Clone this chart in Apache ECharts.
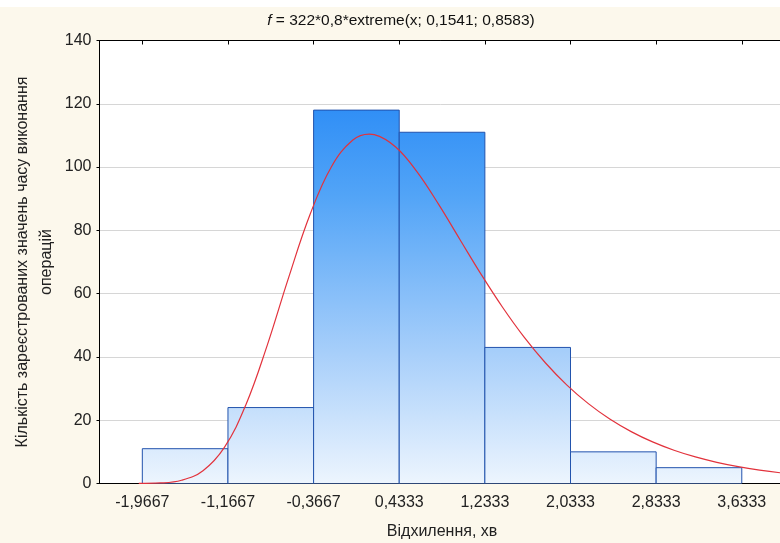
<!DOCTYPE html>
<html>
<head>
<meta charset="utf-8">
<script src="https://cdn.jsdelivr.net/npm/echarts@6/dist/echarts.min.js"></script>
<style>
html,body{margin:0;padding:0;background:#ffffff;}
#chart{width:780px;height:543px;}
</style>
</head>
<body>
<div id="chart"></div>
<script>
// Histogram bins (bin start, bin end) and counts
const binStart = [-1.9667, -1.1667, -0.3667, 0.4333, 1.2333, 2.0333, 2.8333];
const binEnd   = [-1.1667, -0.3667, 0.4333, 1.2333, 2.0333, 2.8333, 3.6333];
const counts   = [11, 24, 118, 111, 43, 10, 5];

// Fitted curve
const curveX = [-2.0, -1.8, -1.6, -1.4, -1.2, -1.0, -0.8, -0.6, -0.4, -0.2, 0.0, 0.1541, 0.2, 0.4, 0.6, 0.8, 1.0, 1.2, 1.4, 1.6, 1.8, 2.0, 2.2, 2.4, 2.6, 2.8, 3.0, 3.2, 3.4, 3.6, 3.8, 4.0, 4.2];
const curveY = [0.02, 0.17, 1.03, 4.06, 11.44, 24.82, 43.66, 65.07, 85.0, 100.09, 108.54, 110.41, 110.26, 106.36, 98.49, 88.28, 77.12, 66.02, 55.61, 46.25, 38.08, 31.1, 25.24, 20.38, 16.4, 13.14, 10.51, 8.39, 6.69, 5.32, 4.23, 3.36, 2.68];

// Axis ticks
const xTickValues = [-1.9667, -1.1667, -0.3667, 0.4333, 1.2333, 2.0333, 2.8333, 3.6333];
const xTickLabels = ['-1,9667', '-1,1667', '-0,3667', '0,4333', '1,2333', '2,0333', '2,8333', '3,6333'];

const titleText = ' = 322*0,8*extreme(x; 0,1541; 0,8583)';
const xName = 'Відхилення, хв';
const yName = 'Кількість зареєстрованих значень часу виконання\nоперацій';

const chart = echarts.init(document.getElementById('chart'), null, {renderer: 'canvas'});

const barData = binStart.map((s, i) => [s, binEnd[i], counts[i]]);
const curveData = curveX.map((x, i) => [x, curveY[i]]);
const labelMap = {};
xTickValues.forEach((v, i) => { labelMap[v] = xTickLabels[i]; });

const FONT = 'Liberation Sans, Arial, sans-serif';

const barFill = new echarts.graphic.LinearGradient(0, 40, 0, 484, [
  {offset: 0, color: '#157ef5'},
  {offset: 0.35, color: '#52a4f7'},
  {offset: 0.7, color: '#a6cefa'},
  {offset: 1, color: '#edf5fe'}
], true);

chart.setOption({
  backgroundColor: 'transparent',
  animation: false,
  graphic: [
    {type: 'rect', z: -10, shape: {x: 0, y: 7, width: 780, height: 536}, style: {fill: '#fcf8ec'}},
    {type: 'text', z: 10, x: 401, y: 21,
      style: {
        text: '{i|f}{n|' + titleText + '}',
        align: 'center', verticalAlign: 'middle',
        rich: {
          i: {font: 'italic 15.5px ' + FONT, fill: '#111'},
          n: {font: '15.5px ' + FONT, fill: '#111'}
        }
      }
    },
    {type: 'text', z: 10, x: 35, y: 262, rotation: Math.PI / 2,
      style: {
        text: yName, align: 'center', verticalAlign: 'middle',
        font: '16px ' + FONT, fill: '#222', lineHeight: 24
      }
    }
  ],
  grid: {
    left: 99.5, top: 40.5, right: -4.6, bottom: 59.5,
    outerBoundsMode: 'none', containLabel: false,
    show: true, backgroundColor: '#ffffff', borderWidth: 0
  },
  xAxis: [
    {
      type: 'value', min: -2.3667, max: 4.0333,
      name: xName, nameLocation: 'middle', nameGap: 40,
      nameTextStyle: {fontFamily: FONT, fontSize: 16, color: '#222'},
      axisLine: {show: true, onZero: false, lineStyle: {color: '#000', width: 1}},
      axisTick: {show: false},
      splitLine: {show: false},
      axisLabel: {
        customValues: xTickValues,
        formatter: v => labelMap[v] !== undefined ? labelMap[v] : '',
        fontFamily: FONT, fontSize: 16, color: '#222', margin: 11
      }
    },
    {
      type: 'value', position: 'top', min: -2.3667, max: 4.0333,
      axisLine: {show: true, onZero: false, lineStyle: {color: '#000', width: 1}},
      axisTick: {show: true, inside: true, length: 4, customValues: xTickValues, lineStyle: {color: '#000'}},
      axisLabel: {show: false},
      splitLine: {show: false}
    }
  ],
  yAxis: {
    type: 'value', min: 0, max: 140, interval: 20,
    axisLine: {show: true, onZero: false, lineStyle: {color: '#000', width: 1}},
    axisTick: {show: true, length: 3, lineStyle: {color: '#000'}},
    splitLine: {show: true, lineStyle: {color: '#d6d6d6', width: 1}},
    axisLabel: {fontFamily: FONT, fontSize: 16, color: '#222', margin: 8}
  },
  series: [
    {
      type: 'custom',
      data: barData,
      encode: {x: [0, 1], y: 2},
      clip: true,
      renderItem: function (params, api) {
        const p0 = api.coord([api.value(0), api.value(2)]);
        const p1 = api.coord([api.value(1), 0]);
        return {
          type: 'rect',
          shape: {x: p0[0], y: p0[1], width: p1[0] - p0[0], height: p1[1] - p0[1]},
          style: {fill: barFill, stroke: '#2253ad', lineWidth: 1}
        };
      },
      z: 2
    },
    {
      type: 'line',
      data: curveData,
      smooth: 0.4,
      showSymbol: false,
      clip: true,
      lineStyle: {color: '#e2323c', width: 1.2},
      z: 3
    }
  ]
});
</script>
</body>
</html>
